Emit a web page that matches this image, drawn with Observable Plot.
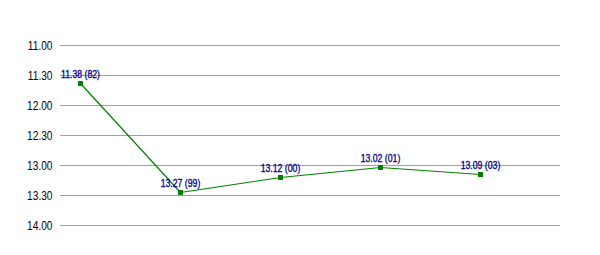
<!DOCTYPE html>
<html>
<head>
<meta charset="utf-8">
<script src="https://cdn.jsdelivr.net/npm/d3@7"></script>
<script src="https://cdn.jsdelivr.net/npm/@observablehq/plot@0.6"></script>
<style>
  html, body { margin: 0; padding: 0; background: #fff; }
  #chart svg { display: block; }
</style>
</head>
<body>
<div id="chart"></div>
<script>
const years = ["82", "99", "00", "01", "03"];
const times = ["11.38", "13.27", "13.12", "13.02", "13.09"];
const tickLabels = ["11.00", "11.30", "12.00", "12.30", "13.00", "13.30", "14.00"];

const toSec = s => { const [m, ss] = s.split("."); return +m * 60 + +ss; };
const data = years.map((y, i) => ({ year: y, time: times[i], sec: toSec(times[i]), label: `${times[i]} (${y})` }));
const tickVals = tickLabels.map(toSec);
const tickFmt = new Map(tickVals.map((v, i) => [v, tickLabels[i]]));

const green = "#008000";
const navy = "#000088";
const font = "'Liberation Sans', Arial, sans-serif";

const chart = Plot.plot({
  width: 600,
  height: 255,
  marginTop: 45,
  marginBottom: 30,
  marginLeft: 60,
  marginRight: 40,
  style: { background: "#fff", overflow: "visible" },
  x: { type: "point", domain: years, range: [80, 480], padding: 0, axis: null },
  y: { domain: [tickVals[0], tickVals[tickVals.length - 1]], reverse: true, axis: null },
  marks: [
    Plot.ruleY(tickVals, { stroke: "#a0a0a0", strokeWidth: 1 }),
    Plot.axisY({
      ticks: tickVals, tickFormat: d => tickFmt.get(d), tickSize: 0, tickPadding: 8,
      fontSize: 13, fill: "#000", fontFamily: font, label: null, className: "ytick"
    }),
    Plot.line(data, { x: "year", y: "sec", stroke: green, strokeWidth: 1.2 }),
    Plot.dot(data, { x: "year", y: "sec", symbol: "square", r: 2.8, fill: green, stroke: null }),
    Plot.text(data, {
      x: "year", y: "sec", text: "label", dy: -9, fill: navy, stroke: navy, strokeWidth: 0.3,
      fontSize: 10, fontFamily: font, className: "plabel"
    })
  ]
});
document.getElementById("chart").appendChild(chart);

function squeeze(selector, factor) {
  chart.querySelectorAll(selector).forEach(t => {
    const w = t.getComputedTextLength();
    t.setAttribute("textLength", (w * factor).toFixed(2));
    t.setAttribute("lengthAdjust", "spacingAndGlyphs");
  });
}
squeeze(".ytick text", 0.78);
squeeze(".plabel text", 0.87);
</script>
</body>
</html>
